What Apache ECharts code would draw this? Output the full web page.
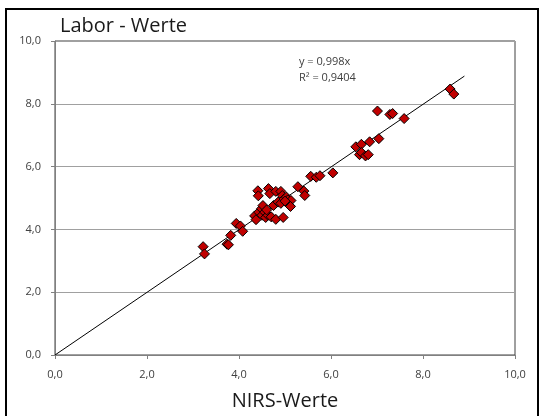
<!DOCTYPE html>
<html>
<head>
<meta charset="utf-8">
<script src="https://cdn.jsdelivr.net/npm/echarts@6/dist/echarts.min.js"></script>
<style>html,body{margin:0;padding:0;background:#fff;}#c{width:540px;height:416px;}</style>
</head>
<body>
<div id="c"></div>
<script>
const nirs  = [3.22,3.25,3.74,3.77,3.82,3.94,4.03,4.08,4.34,4.37,4.41,4.42,4.43,4.49,4.52,4.50,4.56,4.58,4.64,4.67,4.63,4.70,4.75,4.80,4.80,4.85,4.91,4.91,4.94,4.96,4.98,5.03,5.06,5.10,5.13,5.12,5.00,4.60,5.28,5.41,5.43,5.56,5.68,5.76,6.04,6.54,6.66,6.62,6.66,6.75,6.81,6.84,7.01,7.04,7.28,7.34,7.59,8.59,8.67];
const labor = [3.45,3.22,3.53,3.51,3.81,4.19,4.11,3.94,4.43,4.31,5.23,5.07,4.55,4.66,4.76,4.45,4.55,4.38,5.30,5.14,4.45,4.40,4.76,5.21,4.32,4.87,5.21,4.83,5.08,4.38,4.97,5.03,4.94,4.76,4.92,4.73,4.90,4.62,5.36,5.22,5.08,5.69,5.66,5.71,5.80,6.63,6.71,6.38,6.45,6.34,6.38,6.79,7.77,6.89,7.66,7.69,7.53,8.47,8.31];
const trendSlope = 0.998;
const trendX = [0, 8.9];
const equationText = ['y = 0,998x', 'R² = 0,9404'];
const titleText = 'Labor - Werte';
const xName = 'NIRS-Werte';

const pts = nirs.map((x, i) => [x, labor[i]]);
const trend = trendX.map(x => [x, trendSlope * x]);
const fmt = v => v.toFixed(1).replace('.', ',');
const font = '"Open Sans", "Liberation Sans", sans-serif';

const chart = echarts.init(document.getElementById('c'), null, {renderer: 'canvas'});
chart.setOption({
  animation: false,
  backgroundColor: '#fff',
  grid: {left: 55, top: 41, width: 460, height: 317, show: true, borderColor: '#404040', borderWidth: 1, backgroundColor: 'transparent'},
  xAxis: {
    type: 'value', min: 0, max: 10, interval: 2,
    axisLine: {show: true, lineStyle: {color: '#808080'}},
    axisTick: {show: true, length: 4, lineStyle: {color: '#808080'}},
    axisLabel: {formatter: fmt, color: '#404040', fontSize: 11, fontFamily: font, margin: 14},
    splitLine: {show: false},
    name: xName, nameLocation: 'middle', nameGap: 36,
    nameTextStyle: {fontSize: 20, color: '#1a1a1a', fontFamily: font}
  },
  yAxis: {
    type: 'value', min: 0, max: 10, interval: 2,
    axisLine: {show: true, lineStyle: {color: '#808080'}},
    axisTick: {show: true, length: 4, lineStyle: {color: '#808080'}},
    axisLabel: {formatter: fmt, color: '#404040', fontSize: 11, fontFamily: font, margin: 14},
    splitLine: {show: true, lineStyle: {color: '#a0a0a0', width: 1}}
  },
  graphic: [
    {type: 'rect', shape: {x: 6, y: 9, width: 532, height: 420}, style: {fill: 'none', stroke: '#000', lineWidth: 2}, z: 100},
    {type: 'text', left: 60, top: 16, style: {text: titleText, fontSize: 20, fill: '#1a1a1a', fontFamily: font}},
    {type: 'text', left: 299, top: 56, style: {text: equationText[0], fontSize: 11, fill: '#404040', fontFamily: font}},
    {type: 'text', left: 299, top: 72, style: {text: equationText[1], fontSize: 11, fill: '#404040', fontFamily: font}}
  ],
  series: [
    {type: 'line', data: trend, symbol: 'none', lineStyle: {color: '#000', width: 1}, z: 1},
    {type: 'scatter', data: pts, symbol: 'diamond', symbolSize: 10,
     itemStyle: {color: '#C00000', borderColor: '#000', borderWidth: 1, opacity: 1}, z: 2}
  ]
});
</script>
</body>
</html>
